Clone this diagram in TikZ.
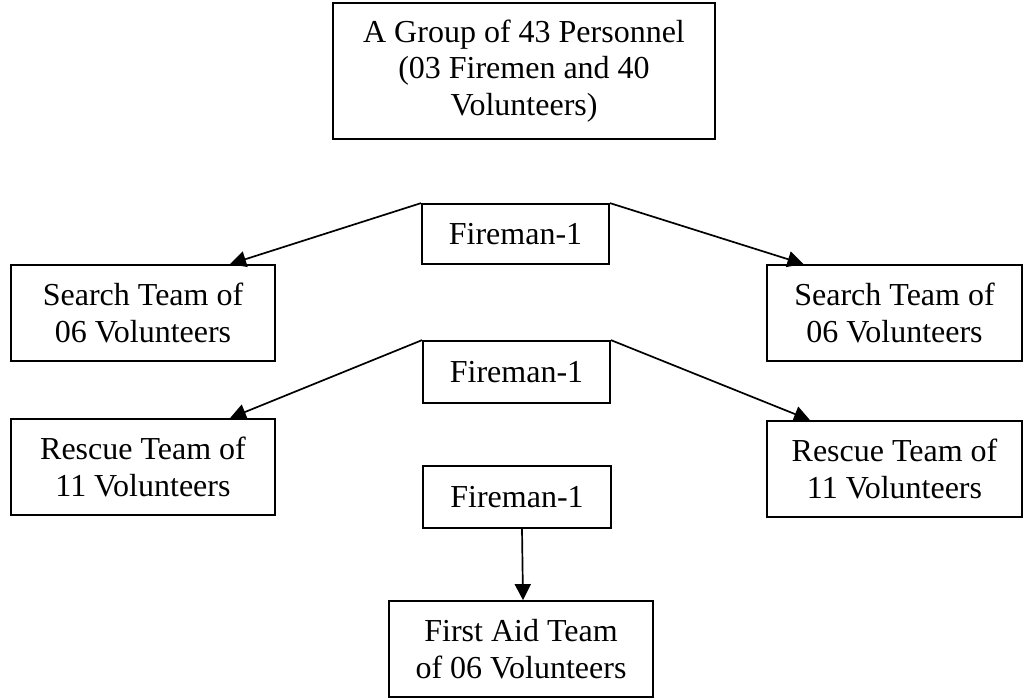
\documentclass[tikz,border=0pt]{standalone}
\usepackage{fontspec}
\setmainfont{Liberation Serif}
\usetikzlibrary{arrows.meta}
\begin{document}
\begin{tikzpicture}[x=1pt,y=-1pt,
  box/.style={draw, line width=1.8pt, rectangle, inner sep=0pt, align=center,
    font=\fontsize{32}{36.5}\selectfont},
  arr/.style={line width=1.7pt, -{Triangle[length=16pt,width=16pt]}}]
\useasboundingbox (0,0) rectangle (1027,698);

% organisation chart nodes
\node[box, minimum width=382pt, minimum height=136pt] (grp) at (524,71)
  {A Group of 43 Personnel\\(03 Firemen and 40\\Volunteers)};
\node[box, minimum width=187pt, minimum height=60pt] (fa) at (515.5,234) {Fireman-1};
\node[box, minimum width=264pt, minimum height=96pt] (sl) at (143,313) {Search Team of\\06 Volunteers};
\node[box, minimum width=255pt, minimum height=96pt] (sr) at (894.5,313) {Search Team of\\06 Volunteers};
\node[box, minimum width=187pt, minimum height=62pt] (fb) at (516.5,372) {Fireman-1};
\node[box, minimum width=264pt, minimum height=96pt] (rl) at (143,467) {Rescue Team of\\11 Volunteers};
\node[box, minimum width=255pt, minimum height=96pt] (rr) at (894.5,469) {Rescue Team of\\11 Volunteers};
\node[box, minimum width=188pt, minimum height=62pt] (fc) at (517,497) {Fireman-1};
\node[box, minimum width=264pt, minimum height=96pt] (aid) at (521,649) {First Aid Team\\of 06 Volunteers};

% connectors
\draw[arr] (fa.north west) -- ([xshift=87pt]sl.north);
\draw[arr] (fa.north east) -- ([xshift=-91pt]sr.north);
\draw[arr] (fb.north west) -- ([xshift=87pt]rl.north);
\draw[arr] (fb.north east) -- ([xshift=-84.5pt]rr.north);
\draw[arr] ([xshift=5pt]fc.south) -- ([xshift=2pt]aid.north);
\end{tikzpicture}
\end{document}
